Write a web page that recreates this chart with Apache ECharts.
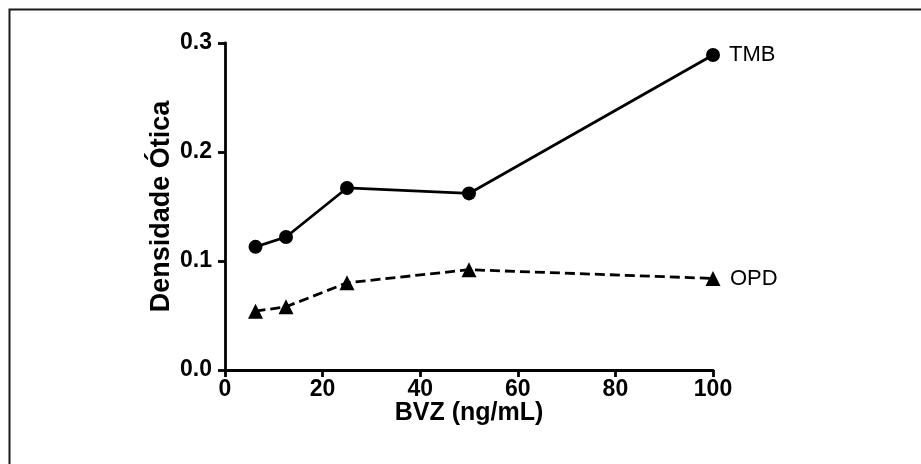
<!DOCTYPE html>
<html>
<head>
<meta charset="utf-8">
<script src="https://cdn.jsdelivr.net/npm/echarts@6/dist/echarts.min.js"></script>
<style>
html, body { margin: 0; padding: 0; background: #fff; }
#chart { width: 921px; height: 464px; }
</style>
</head>
<body>
<div id="chart"></div>
<script>
/*----- dados -----*/
var bvz = [6.25, 12.5, 25, 50, 100];
var tmb = [0.113, 0.122, 0.167, 0.162, 0.289];
var opd = [0.054, 0.058, 0.080, 0.092, 0.084];

function pairs(xs, ys){
	var out = [];
	for(var i = 0; i < xs.length; i++){
		out.push([xs[i], ys[i]]);
	}
	return out;
}

var font = 'Arial, "Liberation Sans", sans-serif';

var option = {
	animation: false,
	backgroundColor: '#fff',
	graphic: [{
		type: 'rect',
		shape: { x: 9.5, y: 9.5, width: 1000, height: 1000 },
		style: { fill: 'none', stroke: '#1a1a1a', lineWidth: 2 }
	}],
	grid: { left: 225, top: 43, right: 208, bottom: 94 },
	xAxis: {
		type: 'value',
		min: 0,
		max: 100,
		interval: 20,
		name: 'BVZ (ng/mL)',
		nameLocation: 'middle',
		nameMoveOverlap: false,
		nameGap: 31,
		nameTextStyle: { fontFamily: font, fontWeight: 'bold', fontSize: 25, color: '#000' },
		axisLine: { lineStyle: { color: '#000', width: 2.8 } },
		axisTick: { length: 7, lineStyle: { color: '#000', width: 2.8 } },
		axisLabel: { fontFamily: font, fontWeight: 'bold', fontSize: 23, color: '#000', margin: 8 },
		splitLine: { show: false }
	},
	yAxis: {
		type: 'value',
		min: 0,
		max: 0.3,
		interval: 0.1,
		name: 'Densidade Ótica',
		nameLocation: 'middle',
		nameMoveOverlap: false,
		nameGap: 50,
		nameTextStyle: { fontFamily: font, fontWeight: 'bold', fontSize: 27, color: '#000' },
		axisLine: { show: true, lineStyle: { color: '#000', width: 2.8 } },
		axisTick: { show: true, length: 7, lineStyle: { color: '#000', width: 2.8 } },
		axisLabel: {
			fontFamily: font, fontWeight: 'bold', fontSize: 23, color: '#000', margin: 13,
			formatter: function(v){ return v.toFixed(1); }
		},
		splitLine: { show: false }
	},
	series: [
		{
			name: 'TMB',
			type: 'line',
			data: pairs(bvz, tmb),
			symbol: 'circle',
			symbolSize: 14,
			itemStyle: { color: '#000' },
			lineStyle: { color: '#000', width: 2.8 },
			endLabel: { show: true, formatter: '{a}', fontFamily: font, fontSize: 22, color: '#000', distance: 16 }
		},
		{
			name: 'OPD',
			type: 'line',
			data: pairs(bvz, opd),
			symbol: 'triangle',
			symbolSize: 15,
			itemStyle: { color: '#000' },
			lineStyle: { color: '#000', width: 2.8, type: [10, 5] },
			endLabel: { show: true, formatter: '{a}', fontFamily: font, fontSize: 22, color: '#000', distance: 17 }
		}
	]
};
echarts.init(document.getElementById('chart')).setOption(option, true);
</script>
</body>
</html>
